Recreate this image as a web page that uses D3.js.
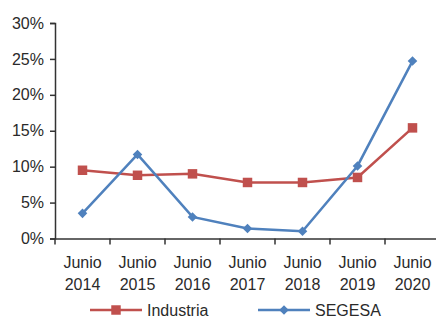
<!DOCTYPE html>
<html lang="es">
<head>
<meta charset="utf-8">
<title>Industria vs SEGESA</title>
<style>
  body { margin: 0; background: #fff; }
  svg text { font-family: "Liberation Sans", Arial, sans-serif; fill: #2a2a2a; }
</style>
</head>
<body>
<script src="https://d3js.org/d3.v7.min.js"></script>
<div id="chart"></div>
<script>
var years = ["2014", "2015", "2016", "2017", "2018", "2019", "2020"];
var industria = [9.5, 8.8, 9.0, 7.8, 7.8, 8.5, 15.4];
var segesa = [3.5, 11.7, 3.0, 1.4, 1.0, 10.1, 24.7];
var yTicks = [0, 5, 10, 15, 20, 25, 30];

var width = 436, height = 320;
var margin = {top: 23, right: -4, bottom: 82, left: 55};

var svg = d3.select("#chart").append("svg")
  .attr("width", width)
  .attr("height", height);

var x = d3.scaleBand()
  .domain(years)
  .range([margin.left, width - margin.right]);

var y = d3.scaleLinear()
  .domain([0, 30])
  .range([height - margin.bottom + 0.5, margin.top]);

// y axis
var yAxis = svg.append("g")
  .attr("transform", "translate(" + margin.left + ",0)")
  .call(d3.axisLeft(y).tickValues(yTicks).tickSize(5).tickPadding(6)
    .tickFormat(function(d){ return d + "%"; }));
yAxis.selectAll("text").attr("font-size", "16px");

// x axis
var xAxis = svg.append("g")
  .attr("transform", "translate(0," + y(0) + ")")
  .call(d3.axisBottom(x).tickSize(0).tickFormat(""));
xAxis.selectAll(".tick").remove();
svg.selectAll(".domain").attr("stroke", "#333").attr("stroke-width", 1.5);
yAxis.selectAll("line").attr("stroke", "#333").attr("stroke-width", 1.5);

svg.append("g").selectAll("line")
  .data(years)
  .enter().append("line")
    .attr("x1", function(d){ return x(d); })
    .attr("x2", function(d){ return x(d); })
    .attr("y1", y(0))
    .attr("y2", y(0) + 6)
    .attr("stroke", "#333")
    .attr("stroke-width", 1.5);

var labels = svg.append("g").selectAll("text")
  .data(years)
  .enter().append("text")
    .attr("x", function(d){ return x(d) + x.bandwidth() / 2; })
    .attr("y", y(0) + 29)
    .attr("text-anchor", "middle")
    .attr("font-size", "16px");
labels.append("tspan").attr("x", function(d){ return x(d) + x.bandwidth() / 2; }).text("Junio");
labels.append("tspan").attr("x", function(d){ return x(d) + x.bandwidth() / 2; })
  .attr("dy", 22).text(function(d){ return d; });

var line = d3.line()
  .x(function(d, i){ return x(years[i]) + x.bandwidth() / 2; })
  .y(function(d){ return y(d); });

var red = "#C0504D", blue = "#4F81BD";

svg.append("path").datum(industria)
  .attr("d", line).attr("fill", "none").attr("stroke", red).attr("stroke-width", 2.5);
svg.append("path").datum(segesa)
  .attr("d", line).attr("fill", "none").attr("stroke", blue).attr("stroke-width", 2.5);

var square = d3.symbol().type(d3.symbolSquare).size(90);
var diamond = d3.symbol().type(d3.symbolSquare).size(46);

svg.append("g").selectAll("path")
  .data(industria).enter().append("path")
    .attr("d", square)
    .attr("transform", function(d, i){ return "translate(" + (x(years[i]) + x.bandwidth() / 2) + "," + y(d) + ")"; })
    .attr("fill", red);

svg.append("g").selectAll("path")
  .data(segesa).enter().append("path")
    .attr("d", diamond)
    .attr("transform", function(d, i){ return "translate(" + (x(years[i]) + x.bandwidth() / 2) + "," + y(d) + ") rotate(45)"; })
    .attr("fill", blue);

// legend
var legend = [
  {name: "Industria", color: red, sym: square, rot: 0, x: 90},
  {name: "SEGESA", color: blue, sym: diamond, rot: 45, x: 258}
];
var lg = svg.append("g").selectAll("g")
  .data(legend).enter().append("g")
    .attr("transform", function(d){ return "translate(" + d.x + ",310)"; });
lg.append("line").attr("x1", 0).attr("x2", 52)
  .attr("stroke", function(d){ return d.color; }).attr("stroke-width", 2.5);
lg.append("path").attr("d", function(d){ return d.sym(); })
  .attr("transform", function(d){ return "translate(26,0) rotate(" + d.rot + ")"; })
  .attr("fill", function(d){ return d.color; });
lg.append("text").attr("x", 57).attr("y", 6)
  .attr("font-size", "16px")
  .text(function(d){ return d.name; });
</script>
</body>
</html>
